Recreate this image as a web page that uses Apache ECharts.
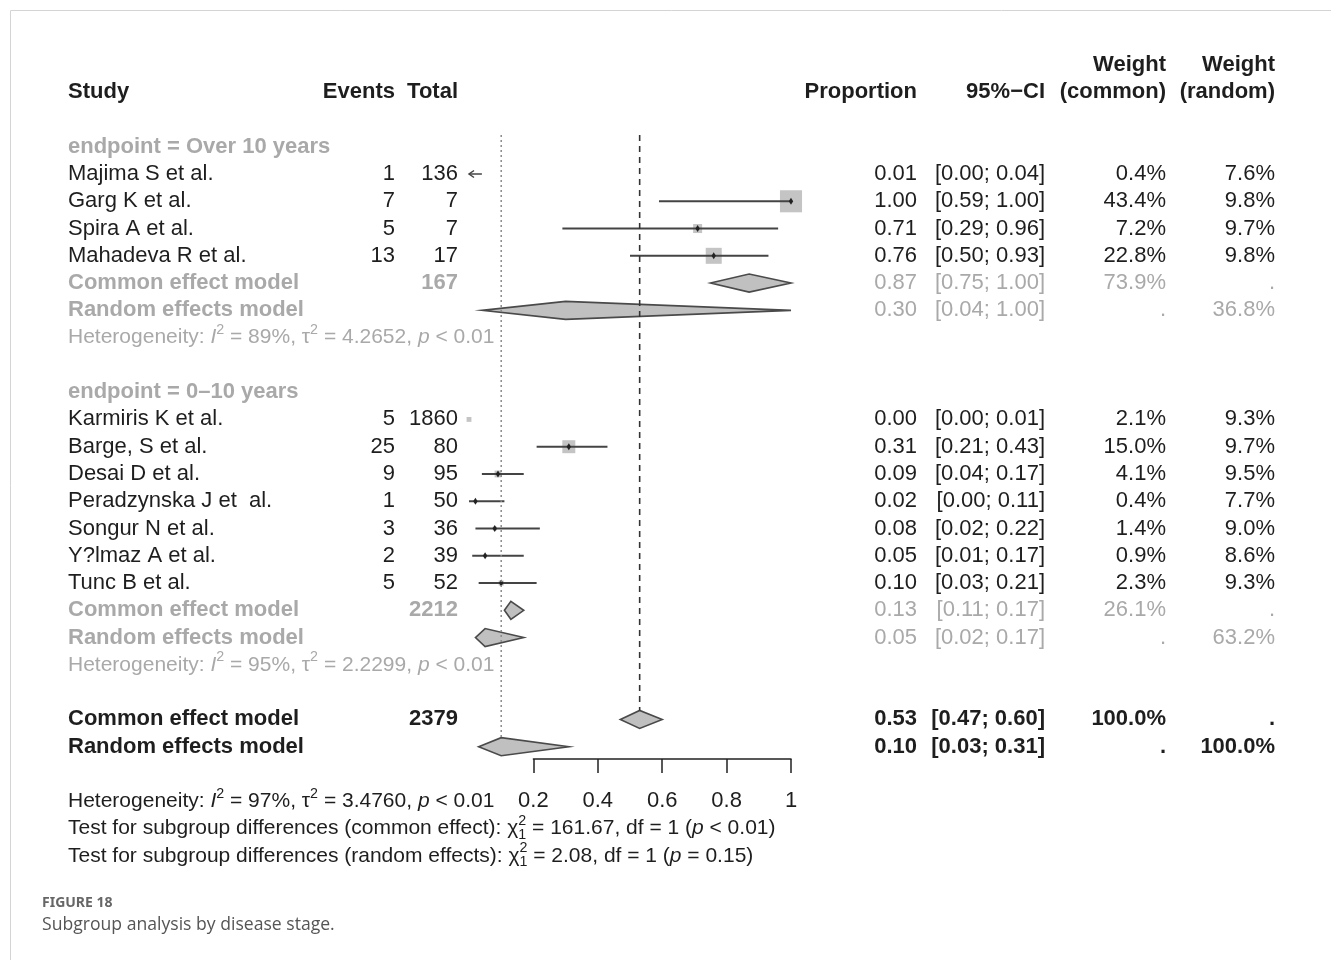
<!DOCTYPE html>
<html>
<head>
<meta charset="utf-8">
<script src="https://cdn.jsdelivr.net/npm/echarts@6/dist/echarts.min.js"></script>
<style>
html,body{margin:0;padding:0;background:#fff;}
#main{width:1331px;height:960px;}
</style>
</head>
<body>
<div id="main"></div>
<script>
// subgroup 1: endpoint = Over 10 years
var studies1 = ['Majima S et al.', 'Garg K et al.', 'Spira A et al.', 'Mahadeva R et al.'];
var events1  = [1, 7, 5, 13];
var total1   = [136, 7, 7, 17];
var prop1    = [0.01, 1.00, 0.71, 0.76];
var lo1      = [0.00, 0.59, 0.29, 0.50];
var hi1      = [0.04, 1.00, 0.96, 0.93];
var wCom1    = [0.4, 43.4, 7.2, 22.8];
var wRan1    = [7.6, 9.8, 9.7, 9.8];

// subgroup 2: endpoint = 0-10 years
var studies2 = ['Karmiris K et al.', 'Barge, S et al.', 'Desai D et al.', 'Peradzynska J et  al.', 'Songur N et al.', 'Y?lmaz A et al.', 'Tunc B et al.'];
var events2  = [5, 25, 9, 1, 3, 2, 5];
var total2   = [1860, 80, 95, 50, 36, 39, 52];
var prop2    = [0.00, 0.31, 0.09, 0.02, 0.08, 0.05, 0.10];
var lo2      = [0.00, 0.21, 0.04, 0.00, 0.02, 0.01, 0.03];
var hi2      = [0.01, 0.43, 0.17, 0.11, 0.22, 0.17, 0.21];
var wCom2    = [2.1, 15.0, 4.1, 0.4, 1.4, 0.9, 2.3];
var wRan2    = [9.3, 9.7, 9.5, 7.7, 9.0, 8.6, 9.3];

// pooled estimates: [sub1 common, sub1 random, sub2 common, sub2 random, overall common, overall random]
var poolLabels = ['Common effect model', 'Random effects model', 'Common effect model', 'Random effects model', 'Common effect model', 'Random effects model'];
var poolTotal  = [167, null, 2212, null, 2379, null];
var poolEst    = [0.87, 0.30, 0.13, 0.05, 0.53, 0.10];
var poolLo     = [0.75, 0.04, 0.11, 0.02, 0.47, 0.03];
var poolHi     = [1.00, 1.00, 0.17, 0.17, 0.60, 0.31];
var poolWCom   = ['73.9%', '.', '26.1%', '.', '100.0%', '.'];
var poolWRan   = ['.', '36.8%', '.', '63.2%', '.', '100.0%'];

var xTicks = [0.2, 0.4, 0.6, 0.8, 1];

// layout rows (row index -> line of the table)
var rows1 = [0, 1, 2, 3];
var rows2 = [9, 10, 11, 12, 13, 14, 15];
var poolRows = [4, 5, 16, 17, 20, 21];

var FONT = '"Liberation Sans", Arial, Helvetica, sans-serif';
var FS = 22, FS2 = 21;
var BLACK = '#1e1e1e', GREY = '#a9a9a9';

var chart = echarts.init(document.getElementById('main'));

var studyData = [];
rows1.forEach(function(r, i){
	studyData.push([r, prop1[i], lo1[i], hi1[i], wCom1[i], i == 0 ? 1 : 0]);
});
rows2.forEach(function(r, i){
	studyData.push([r, prop2[i], lo2[i], hi2[i], wCom2[i], 0]);
});
var diamondData = poolRows.map(function(r, i){
	return [r, poolEst[i], poolLo[i], poolHi[i]];
});

function renderStudy(params, api){
	var row = api.value(0);
	var p  = api.coord([api.value(1), row]);
	var pl = api.coord([api.value(2), row]);
	var ph = api.coord([api.value(3), row]);
	var side = 3.35 * Math.sqrt(api.value(4));
	var kids = [];
	if (api.value(5)) {   // CI runs off the left limit -> arrow
		kids.push({type:'line', shape:{x1:pl[0], y1:pl[1], x2:ph[0], y2:ph[1]}, style:{stroke:'#444', lineWidth:1.5}});
		kids.push({type:'polyline', shape:{points:[[pl[0]+5, pl[1]-3.5],[pl[0], pl[1]],[pl[0]+5, pl[1]+3.5]]}, style:{stroke:'#444', lineWidth:1.5, fill:null}});
		return {type:'group', children:kids};
	}
	kids.push({type:'rect', shape:{x:p[0]-side/2, y:p[1]-side/2, width:side, height:side}, style:{fill:'#c4c4c4'}});
	if (ph[0] - pl[0] > side) {
		kids.push({type:'line', shape:{x1:pl[0], y1:pl[1], x2:ph[0], y2:ph[1]}, style:{stroke:'#444', lineWidth:1.9}});
		kids.push({type:'polygon', shape:{points:[[p[0]-2.2,p[1]],[p[0],p[1]-3.5],[p[0]+2.2,p[1]],[p[0],p[1]+3.5]]}, style:{fill:'#222'}});
	}
	return {type:'group', children:kids};
}

function renderDiamond(params, api){
	var row = api.value(0);
	var pc = api.coord([api.value(1), row]);
	var pl = api.coord([api.value(2), row]);
	var ph = api.coord([api.value(3), row]);
	var h = 9;
	return {
		type:'polygon',
		shape:{points:[[pl[0], pl[1]], [pc[0], pc[1]-h], [ph[0], ph[1]], [pc[0], pc[1]+h]]},
		style:{fill:'#c0c0c0', stroke:'#4a4a4a', lineWidth:1.6}
	};
}

var option = {
	animation:false,
	grid:[
		{left:469, width:322, top:37.65, height:845.37},
		{left:533.4, width:257.6, top:700, height:59}
	],
	xAxis:[
		{gridIndex:0, type:'value', min:0, max:1, show:false},
		{gridIndex:1, type:'value', min:0.2, max:1, interval:0.2, position:'bottom',
			axisLine:{show:true, onZero:false, lineStyle:{color:'#222', width:1.5}},
			axisTick:{show:true, length:14, lineStyle:{color:'#222', width:1.5}},
			axisLabel:{margin:31, fontSize:22, fontFamily:FONT, color:BLACK,
				customValues:xTicks, formatter:function(v){ return String(+v.toFixed(1)); }},
			splitLine:{show:false}}
	],
	yAxis:[
		{gridIndex:0, type:'value', min:-5, max:26, inverse:true, show:false},
		{gridIndex:1, type:'value', min:0, max:1, show:false}
	],
	series:[
		{type:'custom', xAxisIndex:0, yAxisIndex:0, renderItem:renderStudy, data:studyData, silent:true, z:2},
		{type:'custom', xAxisIndex:0, yAxisIndex:0, renderItem:renderDiamond, data:diamondData, silent:true, z:3},
		{type:'line', xAxisIndex:0, yAxisIndex:0, symbol:'none', silent:true, z:4,
			lineStyle:{color:'#8a8a8a', width:1.5, type:[2,3]},
			data:[[poolEst[5], -1.43], [poolEst[5], 20.67]]},
		{type:'line', xAxisIndex:0, yAxisIndex:0, symbol:'none', silent:true, z:4,
			lineStyle:{color:'#333', width:1.6, type:[6,5]},
			data:[[poolEst[4], -1.43], [poolEst[4], 19.67]]}
	]
};
chart.setOption(option);

// ---- text table -----
var cv = document.createElement('canvas').getContext('2d');
function fontStr(size, bold, italic){
	return (italic ? 'italic ' : '') + (bold ? 'bold ' : '') + size + 'px ' + FONT;
}
function rowY(r){
	return chart.convertToPixel({xAxisIndex:0, yAxisIndex:0}, [0, r])[1];
}
var g = [];
function txt(x, r, s, align, bold, color, size){
	g.push({type:'text', x:x, y:rowY(r), silent:true, z:10,
		style:{text:s, font:fontStr(size || FS, bold, false), fill:color || BLACK, align:align || 'left', verticalAlign:'middle'}});
}
// runs of text with italic / superscript / subscript parts
function runs(x, r, parts, color, size){
	var y = rowY(r);
	parts.forEach(function(p){
		var sz = (p.sup || p.sub) ? size * 0.68 : size;
		var f = fontStr(sz, false, p.it);
		var dy = p.sup ? -size * 0.36 : (p.sub ? size * 0.3 : 0);
		g.push({type:'text', x:x, y:y + dy, silent:true, z:10,
			style:{text:p.t, font:f, fill:color, align:'left', verticalAlign:'middle'}});
		cv.font = f;
		if (!p.stay) x += cv.measureText(p.t).width;
	});
}

var C_EV = 395, C_TOT = 458, C_PROP = 917, C_CI = 1045, C_WC = 1166, C_WR = 1275, C_STUDY = 68;

// header
txt(C_WC, -4, 'Weight', 'right', true);
txt(C_WR, -4, 'Weight', 'right', true);
txt(C_STUDY, -3, 'Study', 'left', true);
txt(C_EV, -3, 'Events', 'right', true);
txt(C_TOT, -3, 'Total', 'right', true);
txt(C_PROP, -3, 'Proportion', 'right', true);
txt(C_CI, -3, '95%\u2212CI', 'right', true);
txt(C_WC, -3, '(common)', 'right', true);
txt(C_WR, -3, '(random)', 'right', true);

txt(C_STUDY, -1, 'endpoint = Over 10 years', 'left', true, GREY);
txt(C_STUDY, 8, 'endpoint = 0\u201310 years', 'left', true, GREY);

function studyRows(rows, names, ev, tot, pr, lo, hi, wc, wr){
	rows.forEach(function(r, i){
		txt(C_STUDY, r, names[i]);
		txt(C_EV, r, String(ev[i]), 'right');
		txt(C_TOT, r, String(tot[i]), 'right');
		txt(C_PROP, r, pr[i].toFixed(2), 'right');
		txt(C_CI, r, '[' + lo[i].toFixed(2) + '; ' + hi[i].toFixed(2) + ']', 'right');
		txt(C_WC, r, wc[i].toFixed(1) + '%', 'right');
		txt(C_WR, r, wr[i].toFixed(1) + '%', 'right');
	});
}
studyRows(rows1, studies1, events1, total1, prop1, lo1, hi1, wCom1, wRan1);
studyRows(rows2, studies2, events2, total2, prop2, lo2, hi2, wCom2, wRan2);

poolRows.forEach(function(r, i){
	var overall = i >= 4;
	var col = overall ? BLACK : GREY;
	txt(C_STUDY, r, poolLabels[i], 'left', true, col);
	if (poolTotal[i] != null) txt(C_TOT, r, String(poolTotal[i]), 'right', true, col);
	txt(C_PROP, r, poolEst[i].toFixed(2), 'right', overall, col);
	txt(C_CI, r, '[' + poolLo[i].toFixed(2) + '; ' + poolHi[i].toFixed(2) + ']', 'right', overall, col);
	txt(C_WC, r, poolWCom[i], 'right', overall, col);
	txt(C_WR, r, poolWRan[i], 'right', overall, col);
});

function hetParts(i2, tau2){
	return [{t:'Heterogeneity: '}, {t:'I', it:true}, {t:'2', sup:true}, {t:' = ' + i2 + ', \u03c4'}, {t:'2', sup:true},
		{t:' = ' + tau2 + ', '}, {t:'p', it:true}, {t:' < 0.01'}];
}
runs(C_STUDY, 6, hetParts('89%', '4.2652'), GREY, FS2);
runs(C_STUDY, 18, hetParts('95%', '2.2299'), GREY, FS2);
runs(C_STUDY, 23, hetParts('97%', '3.4760'), BLACK, FS2);
runs(C_STUDY, 24, [{t:'Test for subgroup differences (common effect): \u03c7'}, {t:'2', sup:true, stay:true}, {t:'1', sub:true},
	{t:' = 161.67, df = 1 ('}, {t:'p', it:true}, {t:' < 0.01)'}], BLACK, FS2);
runs(C_STUDY, 25, [{t:'Test for subgroup differences (random effects): \u03c7'}, {t:'2', sup:true, stay:true}, {t:'1', sub:true},
	{t:' = 2.08, df = 1 ('}, {t:'p', it:true}, {t:' = 0.15)'}], BLACK, FS2);

// frame and caption
g.push({type:'rect', silent:true, z:0, shape:{x:10.5, y:10.5, width:1400, height:1000}, style:{fill:null, stroke:'#d4d4d4', lineWidth:1}});
g.push({type:'text', x:42, y:903, silent:true, style:{text:'FIGURE 18', font:'bold 14px "Noto Sans", "Open Sans", sans-serif', fill:'#666', verticalAlign:'middle'}});
g.push({type:'text', x:42, y:925, silent:true, style:{text:'Subgroup analysis by disease stage.', font:'17.6px "Open Sans", "Noto Sans", sans-serif', fill:'#555', verticalAlign:'middle'}});

chart.setOption({graphic:{elements:g}});
</script>
</body>
</html>
